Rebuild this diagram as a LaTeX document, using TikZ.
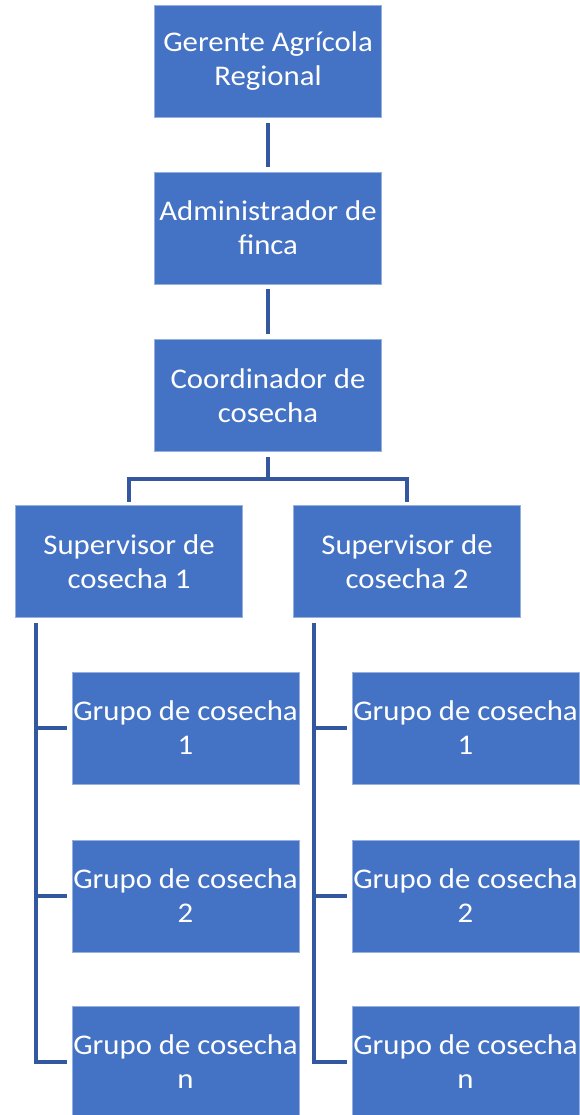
\documentclass[tikz,border=0pt]{standalone}
\usepackage{fontspec}
\setmainfont{Carlito}
\newfontfamily\boxfont[FakeStretch=1.08]{Carlito}
\definecolor{boxblue}{RGB}{68,114,196}
\definecolor{boxedge}{RGB}{150,176,222}
\definecolor{linkblue}{RGB}{52,88,160}
\begin{document}
\begin{tikzpicture}[x=1pt,y=1pt,
  orgbox/.style={draw=boxedge, line width=0.8pt, fill=boxblue, text=white,
    minimum width=227pt, minimum height=112pt, inner sep=0pt, align=center,
    font=\boxfont\fontsize{28.5}{34}\selectfont},
  link/.style={draw=linkblue, line width=4pt}]
\useasboundingbox (0,0) rectangle (579,-1115);
\node[orgbox] (g) at (268,-61.5) {Gerente Agrícola\\Regional};
\node[orgbox] (a) at (268,-228) {Administrador de\\finca};
\node[orgbox] (c) at (268,-395.5) {Coordinador de\\cosecha};
\node[orgbox] (s1) at (129,-561.5) {Supervisor de\\cosecha 1};
\node[orgbox] (s2) at (407,-561.5) {Supervisor de\\cosecha 2};
\node[orgbox] (g11) at (185.5,-728) {Grupo de cosecha\\1};
\node[orgbox] (g12) at (185.5,-896) {Grupo de cosecha\\2};
\node[orgbox] (g13) at (185.5,-1062) {Grupo de cosecha\\n};
\node[orgbox] (g21) at (465.5,-728) {Grupo de cosecha\\1};
\node[orgbox] (g22) at (465.5,-896) {Grupo de cosecha\\2};
\node[orgbox] (g23) at (465.5,-1062) {Grupo de cosecha\\n};
\draw[link] ([yshift=-5pt]g.south) -- ([yshift=5pt]a.north);
\draw[link] ([yshift=-5pt]a.south) -- ([yshift=5pt]c.north);
\coordinate (cj) at ([yshift=-27pt]c.south);
\draw[link] ([yshift=-5pt]c.south) -- (cj);
\draw[link, line cap=rect] (cj) -| ([yshift=5pt]s1.north);
\draw[link, line cap=rect] (cj) -| ([yshift=5pt]s2.north);
\coordinate (t1) at ([xshift=21pt,yshift=-5pt]s1.south west);
\coordinate (t2) at ([xshift=21pt,yshift=-5pt]s2.south west);
\draw[link] (t1) |- ([xshift=-5pt]g13.west);
\draw[link] (t1 |- g11.west) -- ([xshift=-5pt]g11.west);
\draw[link] (t1 |- g12.west) -- ([xshift=-5pt]g12.west);
\draw[link] (t2) |- ([xshift=-5pt]g23.west);
\draw[link] (t2 |- g21.west) -- ([xshift=-5pt]g21.west);
\draw[link] (t2 |- g22.west) -- ([xshift=-5pt]g22.west);
\end{tikzpicture}
\end{document}
